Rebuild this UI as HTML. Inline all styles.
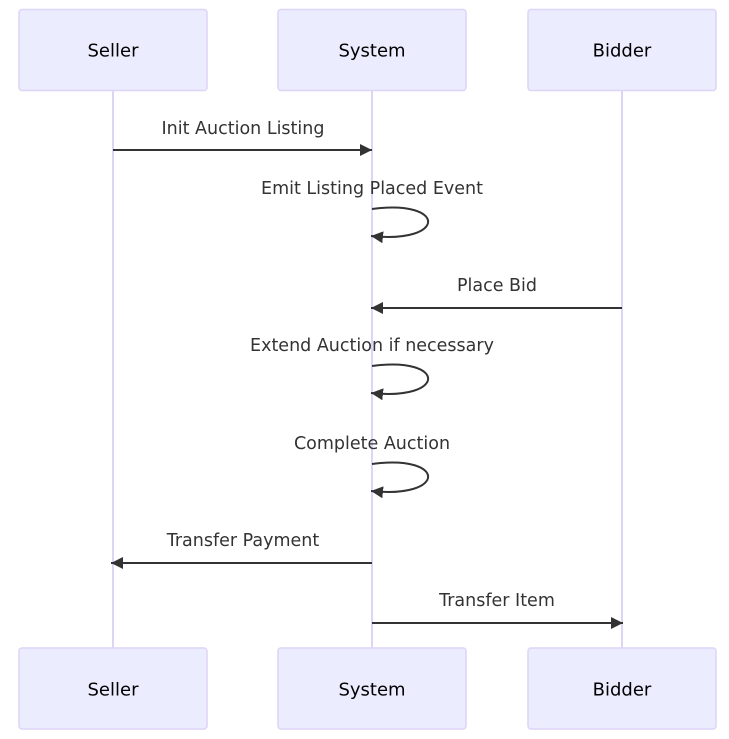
<!DOCTYPE html>
<html><head><meta charset="utf-8"><style>
html,body{margin:0;padding:0;background:#fff;}
svg{display:block;font-family:"DejaVu Sans","Liberation Sans",sans-serif;}
.box{fill:#ECECFF;stroke:#ddd4f6;stroke-width:1.5;}
.life{stroke:#ddd4f6;stroke-width:2;}
.msg{stroke:#333;stroke-width:2;fill:none;}
.lbl{font-size:17.5px;fill:#333;text-anchor:middle;}
.act{font-size:18px;fill:#000;text-anchor:middle;dominant-baseline:central;}
</style></head><body>
<svg width="729" height="739" viewBox="0 0 729 739" xmlns="http://www.w3.org/2000/svg">
<defs><marker id="a" markerWidth="14" markerHeight="14" refX="12" refY="6" orient="auto" markerUnits="userSpaceOnUse"><path d="M0,0 L12,6 L0,12 z" fill="#333"/></marker></defs>
<line class="life" x1="113" y1="91" x2="113" y2="648"/>
<line class="life" x1="372" y1="91" x2="372" y2="648"/>
<line class="life" x1="622" y1="91" x2="622" y2="648"/>
<rect class="box" x="19" y="9.5" width="188" height="81" rx="3"/>
<rect class="box" x="278" y="9.5" width="188" height="81" rx="3"/>
<rect class="box" x="528" y="9.5" width="188" height="81" rx="3"/>
<text class="act" x="113" y="51">Seller</text>
<text class="act" x="372" y="51">System</text>
<text class="act" x="622" y="51">Bidder</text>
<rect class="box" x="19" y="648" width="188" height="81" rx="3"/>
<rect class="box" x="278" y="648" width="188" height="81" rx="3"/>
<rect class="box" x="528" y="648" width="188" height="81" rx="3"/>
<text class="act" x="113" y="690">Seller</text>
<text class="act" x="372" y="690">System</text>
<text class="act" x="622" y="690">Bidder</text>

<text class="lbl" x="243" y="134">Init Auction Listing</text>
<line class="msg" x1="113" y1="150" x2="372" y2="150" marker-end="url(#a)"/>

<text class="lbl" x="372" y="194">Emit Listing Placed Event</text>
<path class="msg" d="M372,209 C447,199 447,244 371,236" marker-end="url(#a)"/>

<text class="lbl" x="497" y="291">Place Bid</text>
<line class="msg" x1="622" y1="308" x2="371" y2="308" marker-end="url(#a)"/>

<text class="lbl" x="372" y="351">Extend Auction if necessary</text>
<path class="msg" d="M372,366 C447,356 447,401 371,393" marker-end="url(#a)"/>

<text class="lbl" x="372" y="449">Complete Auction</text>
<path class="msg" d="M372,464 C447,454 447,499 371,491" marker-end="url(#a)"/>

<text class="lbl" x="243" y="546">Transfer Payment</text>
<line class="msg" x1="372" y1="563" x2="111" y2="563" marker-end="url(#a)"/>

<text class="lbl" x="497" y="606">Transfer Item</text>
<line class="msg" x1="372" y1="623" x2="623" y2="623" marker-end="url(#a)"/>
</svg>
</body></html>
